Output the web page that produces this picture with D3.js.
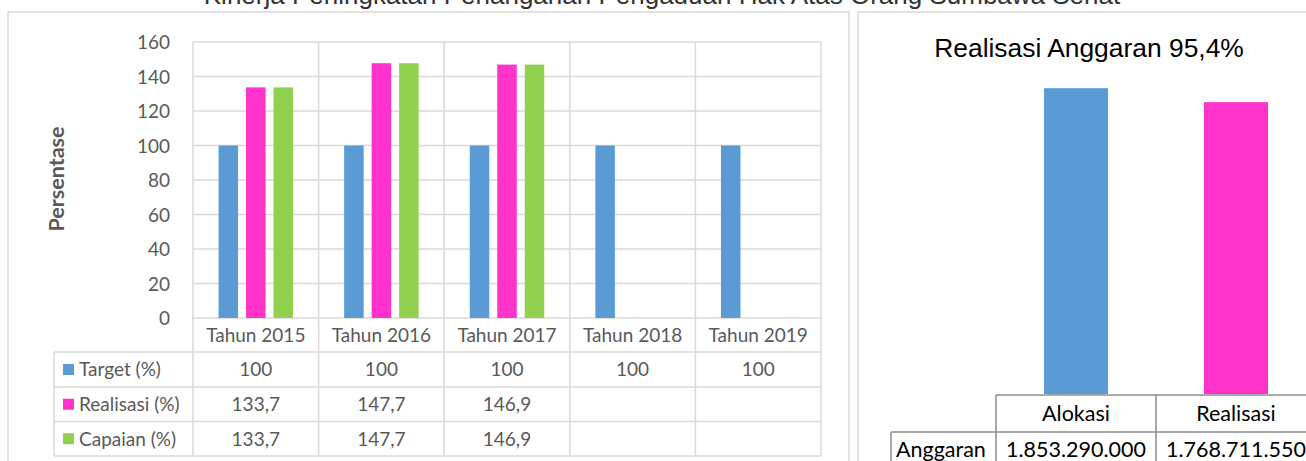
<!DOCTYPE html>
<html>
<head>
<meta charset="utf-8">
<script src="https://cdn.jsdelivr.net/npm/d3@7"></script>
<style>
  html, body { margin: 0; padding: 0; background: #fff; }
  svg { display: block; }
</style>
</head>
<body>
<svg id="chart" width="1306" height="461"></svg>
<script>
// ---- data: capaian kinerja per tahun ----
const years = ["Tahun 2015", "Tahun 2016", "Tahun 2017", "Tahun 2018", "Tahun 2019"];
const seriesNames = ["Target (%)", "Realisasi (%)", "Capaian (%)"];
const targetValues = [100, 100, 100, 100, 100];
const realisasiValues = [133.7, 147.7, 146.9, null, null];
const capaianValues = [133.7, 147.7, 146.9, null, null];
const yTicks = [0, 20, 40, 60, 80, 100, 120, 140, 160];
const seriesColors = ["#5b9bd5", "#ff33cc", "#92d050"];

// ---- data: realisasi anggaran ----
const budgetCategories = ["Alokasi", "Realisasi"];
const budgetValues = [1853290000, 1768711550];
const budgetLabels = ["1.853.290.000", "1.768.711.550"];
const budgetColors = ["#5b9bd5", "#ff33cc"];
const budgetTitle = "Realisasi Anggaran 95,4%";
const budgetRowLabel = "Anggaran";

const pageTitle = "Kinerja Peningkatan Penanganan Pengaduan Hak Atas Orang Sumbawa Sehat";

const svg = d3.select("#chart");
const grid = "#d9d9d9";
const txt = "#595959";
const fontUI = "Lato, 'Open Sans', sans-serif";
const fs = 19;

// page heading (runs off the top edge)
svg.append("text")
  .attr("x", 662).attr("y", 4)
  .attr("text-anchor", "middle")
  .attr("font-family", "'Liberation Sans', Arial, sans-serif")
  .attr("font-size", 26)
  .attr("fill", "#333")
  .text(pageTitle);

// panel frames
const frame = svg.append("g").attr("fill", "none").attr("stroke", grid).attr("stroke-width", 1.5);
frame.append("path").attr("d", "M8,470V12H849V470");
frame.append("path").attr("d", "M858,470V12H1320");

// ================= left: grouped bar chart with data table =================
const series = [targetValues, realisasiValues, capaianValues];
const plotLeft = 193, plotRight = 821, plotTop = 42, plotBottom = 318;
const tableLeft = 54;
const rowEdges = [318, 352, 387, 421.5, 456];

const x0 = d3.scaleBand().domain(years).range([plotLeft, plotRight]).padding(0);
const x1 = d3.scaleBand().domain(seriesNames).range([0, x0.bandwidth()])
  .paddingInner(0.29).paddingOuter(0.93);
const y = d3.scaleLinear().domain([0, 160]).range([plotBottom, plotTop]);

const left = svg.append("g");

// horizontal gridlines
left.append("g").selectAll("line").data(yTicks).join("line")
  .attr("x1", plotLeft).attr("x2", plotRight)
  .attr("y1", d => y(d)).attr("y2", d => y(d))
  .attr("stroke", grid).attr("stroke-width", 1.5);

// y axis labels
const yAxis = d3.axisLeft(y).tickValues(yTicks).tickSize(0).tickPadding(0);
left.append("g").attr("transform", "translate(170,0)").call(yAxis)
  .call(g => g.select(".domain").remove())
  .call(g => g.selectAll("text")
    .attr("font-family", fontUI).attr("font-size", fs).attr("fill", txt).attr("dy", "0.35em"));

// axis title
left.append("text")
  .attr("transform", "translate(64,179) rotate(-90)")
  .attr("text-anchor", "middle")
  .attr("font-family", fontUI).attr("font-size", 21.5).attr("font-weight", "bold")
  .attr("fill", txt)
  .text("Persentase");

// vertical lines: category borders through plot and table
const borders = years.map(d => x0(d)).concat([plotRight]);
left.append("g").selectAll("line").data(borders).join("line")
  .attr("x1", d => d).attr("x2", d => d)
  .attr("y1", plotTop).attr("y2", rowEdges[4])
  .attr("stroke", grid).attr("stroke-width", 1.5);

// table row lines
left.append("g").selectAll("line").data(rowEdges.slice(1)).join("line")
  .attr("x1", tableLeft).attr("x2", plotRight)
  .attr("y1", d => d).attr("y2", d => d)
  .attr("stroke", grid).attr("stroke-width", 1.5);
left.append("line")
  .attr("x1", tableLeft).attr("x2", tableLeft)
  .attr("y1", rowEdges[1]).attr("y2", rowEdges[4])
  .attr("stroke", grid).attr("stroke-width", 1.5);

// bars
const barData = [];
years.forEach((yr, i) => {
  seriesNames.forEach((s, j) => {
    const v = series[j][i];
    if (v != null) barData.push({ yr, s, v, c: seriesColors[j] });
  });
});
left.append("g").selectAll("rect").data(barData).join("rect")
  .attr("x", d => x0(d.yr) + x1(d.s))
  .attr("width", x1.bandwidth())
  .attr("y", d => y(d.v))
  .attr("height", d => y(0) - y(d.v))
  .attr("fill", d => d.c);

// category labels (table header row)
left.append("g").selectAll("text").data(years).join("text")
  .attr("x", d => x0(d) + x0.bandwidth() / 2)
  .attr("y", (rowEdges[0] + rowEdges[1]) / 2)
  .attr("dy", "0.36em")
  .attr("text-anchor", "middle")
  .attr("font-family", fontUI).attr("font-size", fs).attr("fill", txt)
  .text(d => d);

// legend keys and values
const fmt = v => v == null ? "" : String(v).replace(".", ",");
seriesNames.forEach((s, j) => {
  const cy = (rowEdges[j + 1] + rowEdges[j + 2]) / 2;
  left.append("rect")
    .attr("x", 63).attr("y", cy - 5.5).attr("width", 11).attr("height", 11)
    .attr("fill", seriesColors[j]);
  left.append("text")
    .attr("x", 79).attr("y", cy).attr("dy", "0.36em")
    .attr("font-family", fontUI).attr("font-size", fs).attr("fill", txt)
    .text(s);
  left.append("g").selectAll("text").data(years).join("text")
    .attr("x", d => x0(d) + x0.bandwidth() / 2)
    .attr("y", cy).attr("dy", "0.36em")
    .attr("text-anchor", "middle")
    .attr("font-family", fontUI).attr("font-size", fs).attr("fill", txt)
    .text((d, i) => fmt(series[j][i]));
});

// ================= right: budget realisation =================
const right = svg.append("g");
const bx = d3.scaleBand().domain(budgetCategories).range([996, 1316])
  .paddingInner(0.6).paddingOuter(0.3);
const by = d3.scaleLinear().domain([0, 2000000000]).range([394, 64]);

right.append("text")
  .attr("x", 1089).attr("y", 57)
  .attr("text-anchor", "middle")
  .attr("font-family", "'Liberation Sans', Arial, sans-serif")
  .attr("font-size", 26.4).attr("fill", "#000")
  .text(budgetTitle);

right.append("g").selectAll("rect").data(budgetCategories).join("rect")
  .attr("x", d => bx(d))
  .attr("width", bx.bandwidth())
  .attr("y", (d, i) => by(budgetValues[i]))
  .attr("height", (d, i) => by(0) - by(budgetValues[i]))
  .attr("fill", (d, i) => budgetColors[i]);

// data table under the bars
const tGray = "#8c8c8c";
const colEdges = [996, 1156, 1316];
const tbl = right.append("g").attr("stroke", tGray).attr("stroke-width", 1.5).attr("fill", "none");
tbl.append("line").attr("x1", 996).attr("x2", 1316).attr("y1", 395).attr("y2", 395);
tbl.append("line").attr("x1", 891).attr("x2", 1316).attr("y1", 432).attr("y2", 432);
tbl.append("line").attr("x1", 891).attr("x2", 891).attr("y1", 432).attr("y2", 470);
tbl.selectAll("line.col").data(colEdges).join("line").attr("class", "col")
  .attr("x1", d => d).attr("x2", d => d).attr("y1", 395).attr("y2", 470);

right.append("g").selectAll("text").data(budgetCategories).join("text")
  .attr("x", d => bx(d) + bx.bandwidth() / 2)
  .attr("y", 421)
  .attr("text-anchor", "middle")
  .attr("font-family", fontUI).attr("font-size", 21.5).attr("fill", "#000")
  .text(d => d);

right.append("text")
  .attr("x", 896).attr("y", 457)
  .attr("font-family", fontUI).attr("font-size", 21.5).attr("fill", "#000")
  .text(budgetRowLabel);

right.append("g").selectAll("text").data(budgetCategories).join("text")
  .attr("x", d => bx(d) + bx.bandwidth() / 2)
  .attr("y", 457)
  .attr("text-anchor", "middle")
  .attr("font-family", fontUI).attr("font-size", 21.5).attr("fill", "#000")
  .text((d, i) => budgetLabels[i]);
</script>
</body>
</html>
